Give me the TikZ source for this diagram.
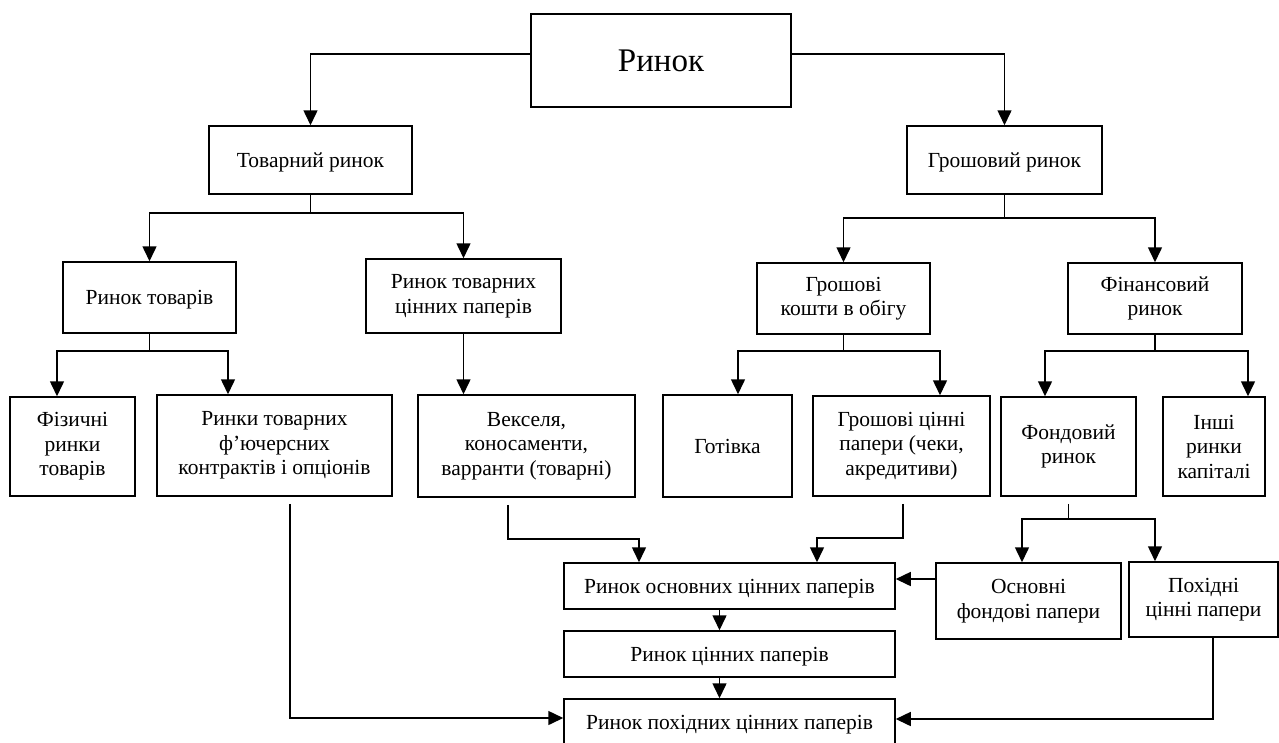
\documentclass[tikz,border=0pt]{standalone}
\usepackage{fontspec}
\setmainfont{Liberation Serif}
\usetikzlibrary{arrows.meta}
\tikzset{
  box/.style={draw, line width=1.5pt, inner sep=0pt, align=center, font=\fontsize{21.5}{24.5}\selectfont},
  single/.style={text depth=0pt},
  conn/.style={line width=1.5pt},
  arr/.style={line width=1.5pt, -{Triangle[length=15pt,width=14pt]}}
}
\begin{document}
\begin{tikzpicture}[x=1pt,y=-1pt]
\useasboundingbox (0,0) rectangle (1279,742);
\clip (0,0) rectangle (1279,742);
\fill[white] (0,0) rectangle (1279,742);
% nodes
\node[box, single, minimum width=260pt, minimum height=93pt, font=\fontsize{33}{38}\selectfont] (rynok) at (661,60.5) {Ринок};
\node[box, single, minimum width=203pt, minimum height=68pt] (tovarnyi) at (310.5,160) {Товарний ринок};
\node[box, single, minimum width=195pt, minimum height=68pt] (groshovyi) at (1004.5,160) {Грошовий ринок};
\node[box, single, minimum width=173pt, minimum height=71pt] (tovariv) at (149.5,297.5) {Ринок товарів};
\node[box, minimum width=195pt, minimum height=74pt] (tovcinni) at (463.5,296) {Ринок товарних\\цінних паперів};
\node[box, minimum width=173pt, minimum height=71pt] (koshty) at (843.5,298.5) {Грошові\\кошти в обігу};
\node[box, minimum width=174pt, minimum height=71pt] (fin) at (1155,298.5) {Фінансовий\\ринок};
\node[box, minimum width=125pt, minimum height=99pt] (fiz) at (72.5,446.5) {Фізичні\\ринки\\товарів};
\node[box, minimum width=235pt, minimum height=101pt] (fut) at (274.5,445.5) {Ринки товарних\\ф’ючерсних\\контрактів і опціонів};
\node[box, minimum width=217pt, minimum height=102pt] (veks) at (526.5,446) {Векселя,\\коносаменти,\\варранти (товарні)};
\node[box, single, minimum width=129pt, minimum height=102pt] (gotivka) at (727.5,446) {Готівка};
\node[box, minimum width=177pt, minimum height=100pt] (gcp) at (901.5,446) {Грошові цінні\\папери (чеки,\\акредитиви)};
\node[box, minimum width=135pt, minimum height=99pt] (fond) at (1068.5,446.5) {Фондовий\\ринок};
\node[box, minimum width=102pt, minimum height=99pt] (inshi) at (1214,446.5) {Інші\\ринки\\капіталі};
\node[box, minimum width=185pt, minimum height=76pt] (osnf) at (1028.5,601) {Основні\\фондові папери};
\node[box, minimum width=149pt, minimum height=75pt] (pokh) at (1203.5,599.5) {Похідні\\цінні папери};
\node[box, single, minimum width=331pt, minimum height=46pt] (ros) at (729.5,586) {Ринок основних цінних паперів};
\node[box, single, minimum width=331pt, minimum height=46pt] (rcp) at (729.5,654) {Ринок цінних паперів};
\node[box, single, minimum width=331pt, minimum height=46pt] (rpokh) at (729.5,722) {Ринок похідних цінних паперів};
% connectors
\draw[arr] ([yshift=6.5pt]rynok.west) -| (tovarnyi.north);
\draw[arr] ([yshift=6.5pt]rynok.east) -| (groshovyi.north);
\draw[conn] (tovarnyi.south) -- ++(0,18) coordinate (t1);
\draw[arr] (t1) -| (tovariv.north);
\draw[arr] (t1) -| (tovcinni.north);
\draw[conn] (groshovyi.south) -- ++(0,23) coordinate (g1);
\draw[arr] (g1) -| (koshty.north);
\draw[arr] (g1) -| (fin.north);
\draw[conn] (tovariv.south) -- ++(0,17) coordinate (t2);
\draw[arr] (t2) -| ([xshift=-15.5pt]fiz.north);
\draw[arr] (t2) -| ([xshift=-46.5pt]fut.north);
\draw[arr] (tovcinni.south) -- (tovcinni.south |- veks.north);
\draw[conn] (koshty.south) -- ++(0,16) coordinate (g2);
\draw[arr] (g2) -| ([xshift=10.5pt]gotivka.north);
\draw[arr] (g2) -| ([xshift=38.5pt]gcp.north);
\draw[conn] (fin.south) -- ++(0,16) coordinate (g3);
\draw[arr] (g3) -| ([xshift=-23.5pt]fond.north);
\draw[arr] (g3) -| ([xshift=34pt]inshi.north);
\draw[conn] ([yshift=-7pt]fond.south) -- ++(0,15) coordinate (g4);
\draw[arr] (g4) -| ([xshift=-6.5pt]osnf.north);
\draw[arr] (g4) -| ([xshift=-48.5pt]pokh.north);
\draw[arr] ([xshift=15.5pt,yshift=-7pt]fut.south) |- ([yshift=4pt]rpokh.west);
\draw[arr] ([xshift=-18.5pt,yshift=-7pt]veks.south) -- ++(0,34) -| ([xshift=-90.5pt]ros.north);
\draw[arr] ([xshift=1.5pt,yshift=-7pt]gcp.south) -- ++(0,34) -| ([xshift=87.5pt]ros.north);
\draw[arr] ([yshift=22pt]osnf.west) -- ([yshift=22pt]osnf.west -| ros.east);
\draw[arr] ([xshift=9.5pt]pokh.south) |- ([yshift=3pt]rpokh.east);
\draw[arr] ([xshift=-10pt]ros.south) -- ([xshift=-10pt]rcp.north);
\draw[arr] ([xshift=-10pt]rcp.south) -- ([xshift=-10pt]rpokh.north);
\end{tikzpicture}
\end{document}
